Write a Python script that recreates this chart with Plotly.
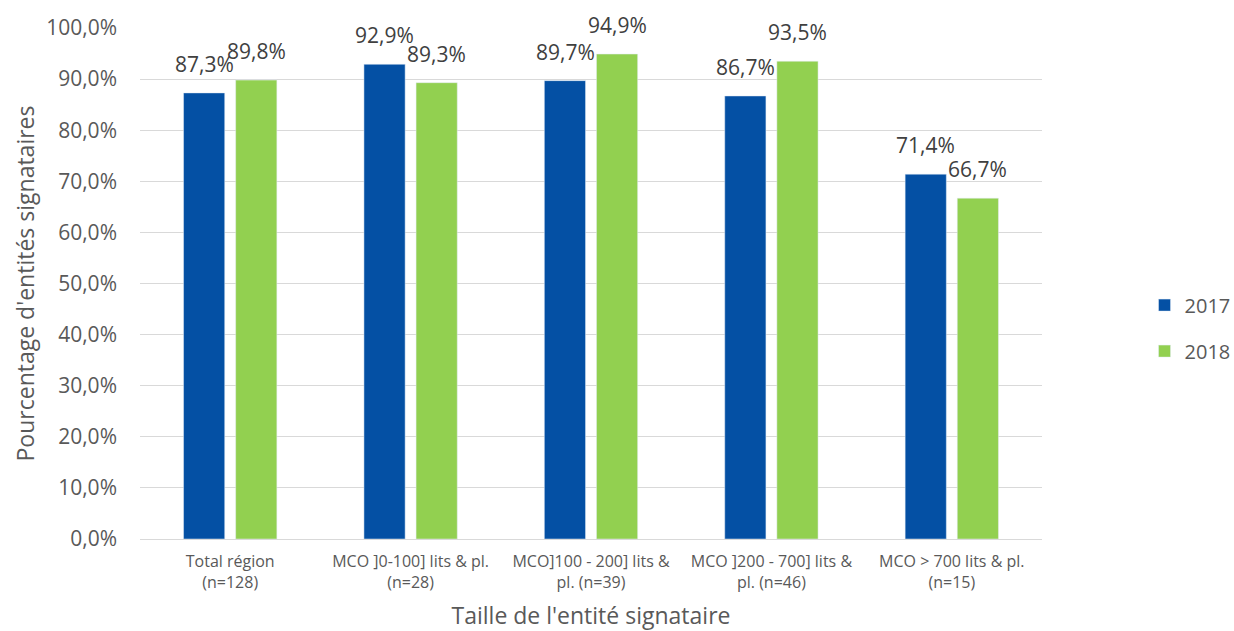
import plotly.graph_objects as go

categories = ["Total région<br>(n=128)", "MCO ]0-100] lits & pl.<br>(n=28)",
              "MCO]100 - 200] lits &<br>pl. (n=39)", "MCO ]200 - 700] lits &<br>pl. (n=46)",
              "MCO > 700 lits & pl.<br>(n=15)"]
values_2017 = [87.3, 92.9, 89.7, 86.7, 71.4]
values_2018 = [89.8, 89.3, 94.9, 93.5, 66.7]
series_names = ["2017", "2018"]
y_ticks = list(range(0, 101, 10))

FONT = "Open Sans"
TXT = "#404040"
TICK = "#595959"

def fmt(v):
    return f"{v:.1f}%".replace(".", ",")

fig = go.Figure()
series = [(series_names[0], values_2017, "#0450A4", -26),
          (series_names[1], values_2018, "#92D050", 26)]
for name, vals, color, shift in series:
    fig.add_trace(go.Bar(
        x=categories, y=vals, name=name, marker_color=color,
        legendgroup=name,
    ))
    for c, v in zip(categories, vals):
        fig.add_annotation(x=c, y=v, xref="x", yref="y", text=fmt(v),
                           showarrow=False, xshift=shift, yshift=13,
                           yanchor="bottom", xanchor="center",
                           font=dict(size=21, color=TXT, family=FONT))

fig.update_layout(
    width=1234, height=631,
    margin=dict(l=140, r=192, t=28, b=92),
    paper_bgcolor="white", plot_bgcolor="white",
    barmode="group", bargap=0.422, bargroupgap=0.21,
    font=dict(family=FONT, color=TXT),
    legend=dict(xref="container", yref="container", x=0.9275, y=0.48,
                xanchor="left", yanchor="middle",
                font=dict(size=20, color=TICK), itemwidth=30,
                tracegroupgap=17),
    showlegend=True,
)
fig.update_yaxes(
    range=[0, 100], tickvals=y_ticks, ticktext=[fmt(v) for v in y_ticks],
    showgrid=True, gridcolor="#D9D9D9", gridwidth=1, zeroline=False,
    showline=False, tickfont=dict(size=21, color=TICK),
    ticklabelstandoff=22, automargin=False,
    title=dict(text="Pourcentage d'entités signataires", font=dict(size=23, color=TICK), standoff=5),
    ticks="",
)
fig.update_xaxes(
    showline=True, linecolor="#D9D9D9", linewidth=1,
    tickfont=dict(size=16, color=TICK), automargin=False,
    ticklabelstandoff=8,
    title=dict(text="Taille de l'entité signataire", font=dict(size=23, color=TICK), standoff=24),
)
fig.write_html("out.html")
